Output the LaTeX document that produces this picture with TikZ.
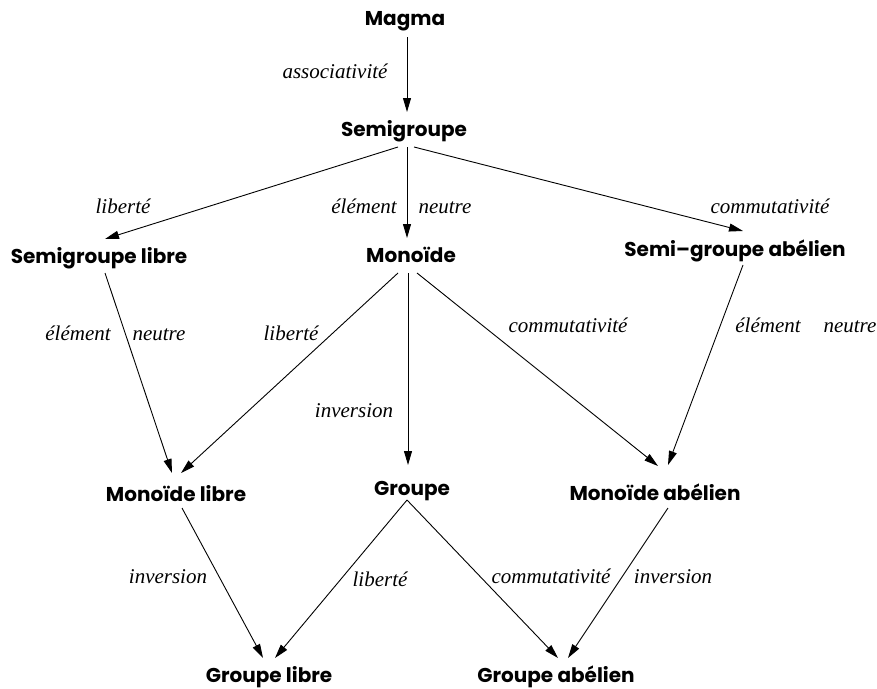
\documentclass[tikz,border=0pt]{standalone}
\usepackage{fontspec}
\usetikzlibrary{arrows.meta}
\newfontfamily\structfont{Poppins}
\newfontfamily\propfont{Liberation Serif}
\begin{document}
\begin{tikzpicture}[x=1pt,y=-1pt,
  struct/.style={font=\structfont\bfseries\fontsize{20}{23}\selectfont, inner sep=0pt, anchor=base},
  prop/.style={font=\propfont\itshape\fontsize{21}{24}\selectfont, inner sep=0pt, anchor=base},
  imp/.style={-{Triangle[length=14pt,width=8pt]}, line width=0.9pt}]
\useasboundingbox (0,0) rectangle (877,688);

% structures
\node[struct] (magma) at (405,25)  {Magma};
\node[struct] (sg)    at (404,136) {Semigroupe};
\node[struct] (sgl)   at (99,263)  {Semigroupe libre};
\node[struct] (mon)   at (411,262) {Monoïde};
\node[struct] (sga)   at (735,256) {Semi\textendash groupe abélien};
\node[struct] (monl)  at (176,501) {Monoïde libre};
\node[struct] (grp)   at (412,495) {Groupe};
\node[struct] (mona)  at (655,500) {Monoïde abélien};
\node[struct] (grpl)  at (269,682) {Groupe libre};
\node[struct] (grpa)  at (556,682) {Groupe abélien};

% implications
\draw[imp] ([shift={(2,12)}]magma.base) -- ([shift={(3,-24)}]sg.base);
\draw[imp] ([shift={(-6,11)}]sg.base)   -- ([shift={(6,-24)}]sgl.base);
\draw[imp] ([shift={(3,11)}]sg.base)    -- ([shift={(-4,-24)}]mon.base);
\draw[imp] ([shift={(10,11)}]sg.base)   -- ([shift={(8,-25)}]sga.base);
\draw[imp] ([shift={(6,10)}]sgl.base)   -- ([shift={(-4,-28)}]monl.base);
\draw[imp] ([shift={(-13,11)}]mon.base) -- ([shift={(5,-28)}]monl.base);
\draw[imp] ([shift={(-3,11)}]mon.base)  -- ([shift={(-4,-30)}]grp.base);
\draw[imp] ([shift={(6,11)}]mon.base)   -- ([shift={(3,-34)}]mona.base);
\draw[imp] ([shift={(8,9)}]sga.base)    -- ([shift={(13,-35)}]mona.base);
\draw[imp] ([shift={(6,7)}]monl.base)   -- ([shift={(-6,-24)}]grpl.base);
\draw[imp] ([shift={(-5,5)}]grp.base)   -- ([shift={(6,-24)}]grpl.base);
\draw[imp] ([shift={(-5,5)}]grp.base)   -- ([shift={(2,-24)}]grpa.base);
\draw[imp] ([shift={(13,8)}]mona.base)  -- ([shift={(12,-24)}]grpa.base);

% properties
\node[prop] (p1)  at (335,78)  {associativité};
\node[prop] (p2)  at (123,213) {liberté};
\node[prop] (p3a) at (364,213) {élément};
\node[prop] (p3b) at (445,213) {neutre};
\node[prop] (p4)  at (770,213) {commutativité};
\node[prop] (p5a) at (78,340)  {élément};
\node[prop] (p5b) at (159,340) {neutre};
\node[prop] (p6)  at (291,340) {liberté};
\node[prop] (p7)  at (568,332) {commutativité};
\node[prop] (p8a) at (768,332) {élément};
\node[prop] (p8b) at (850,332) {neutre};
\node[prop] (p9)  at (354,417) {inversion};
\node[prop] (p10) at (168,583) {inversion};
\node[prop] (p11) at (380,586) {liberté};
\node[prop] (p12) at (551,583) {commutativité};
\node[prop] (p13) at (673,583) {inversion};
\end{tikzpicture}
\end{document}
